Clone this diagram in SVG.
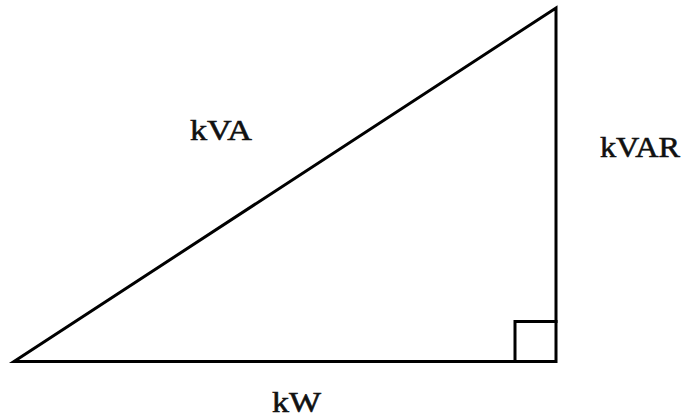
<svg xmlns="http://www.w3.org/2000/svg" width="687" height="420" viewBox="0 0 687 420">
<style>
.l{stroke:#000;stroke-width:3;fill:none;stroke-linecap:square}
.t{font-family:"Liberation Serif","Times New Roman",serif;font-size:30px;fill:#111;stroke:#111;stroke-width:0.6}
</style>
<rect width="687" height="420" fill="#fff"/>
<g id="connectors">
<path class="l" d="M14 361.5 L556 361.5 L556 8 Z" stroke-linejoin="miter"/>
<path class="l" d="M515 361.5 L515 321.5 L556 321.5"/>
</g>
<g id="kVA"><text class="t" x="190" y="140" textLength="62" lengthAdjust="spacingAndGlyphs">kVA</text></g>
<g id="kVAR"><text class="t" x="600" y="157" textLength="80" lengthAdjust="spacingAndGlyphs">kVAR</text></g>
<g id="kW"><text class="t" x="272" y="412" textLength="49" lengthAdjust="spacingAndGlyphs">kW</text></g>
</svg>
